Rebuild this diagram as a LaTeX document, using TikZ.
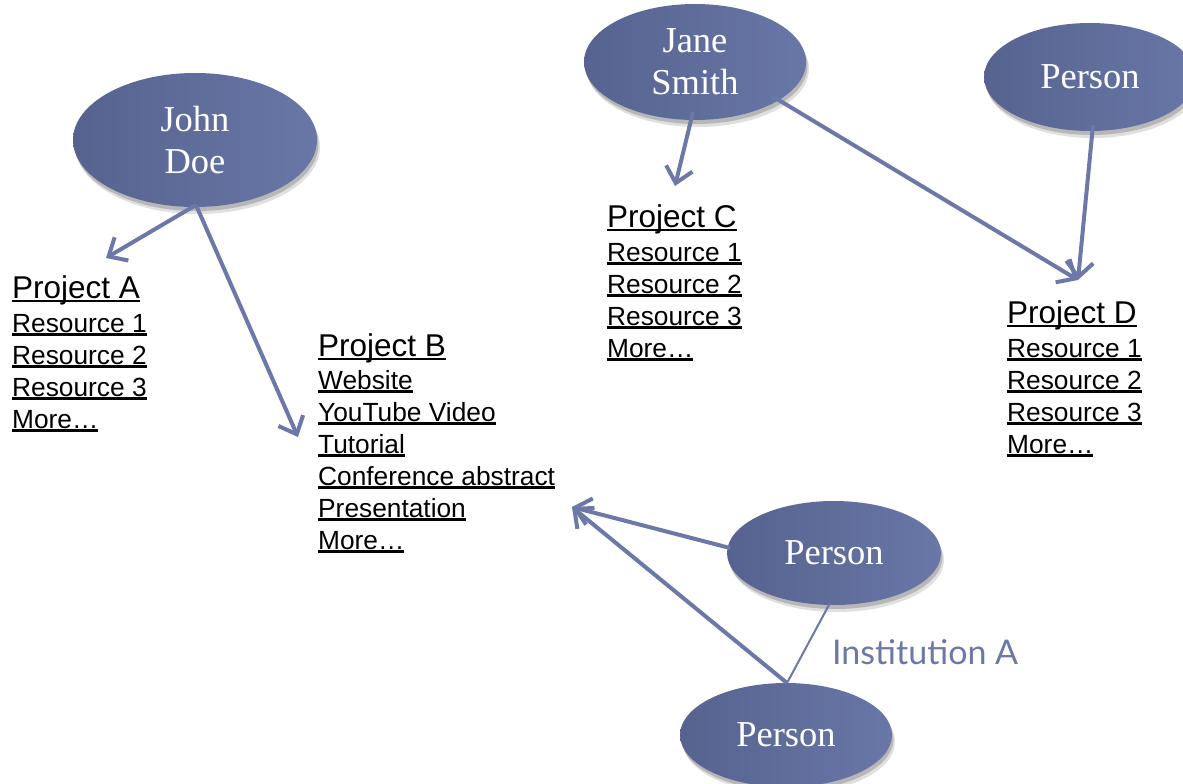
\documentclass[tikz,border=0pt]{standalone}
\usepackage{fontspec}
\setmainfont{Liberation Sans}
\newfontfamily\serifnode{Liberation Serif}
\newfontfamily\instfont{Lato}
\usetikzlibrary{arrows.meta,shapes.geometric,shadows}
\definecolor{lineblue}{HTML}{6B78A8}
\definecolor{ellL}{HTML}{56638F}
\definecolor{ellR}{HTML}{6977A7}
\newcommand\myul[1]{\setbox0\hbox{#1}\rlap{\rule[-0.14em]{\wd0}{0.09em}}\box0}
\begin{document}
\begin{tikzpicture}[x=1pt,y=-1pt,
  person/.style={ellipse, inner sep=0pt, left color=ellL, right color=ellR,
    drop shadow={shadow xshift=3pt, shadow yshift=-7pt, opacity=0.12, fill=black},
    drop shadow={shadow xshift=1.5pt, shadow yshift=-4pt, opacity=0.18, fill=black},
    text=white, font=\serifnode\fontsize{36.5}{42}\selectfont, align=center},
  head/.style={anchor=base west, inner sep=0pt, font=\fontsize{31.5}{31.5}\selectfont},
  item/.style={anchor=base west, inner sep=0pt, font=\fontsize{26.3}{26.3}\selectfont},
  link/.style={draw=lineblue, line width=4pt, -{Straight Barb[length=15pt,width=27pt]}},
  tie/.style={draw=lineblue, line width=2pt}]
\useasboundingbox (0,0) rectangle (1183,784);
\clip (0,0) rectangle (1183,784);
\fill[white] (0,0) rectangle (1183,784);

% ellipses
\node[person, minimum width=244pt, minimum height=134pt] (john) at (195,140) {John\\Doe};
\node[person, minimum width=222pt, minimum height=116pt] (jane) at (695,62) {Jane\\Smith};
\node[person, minimum width=212pt, minimum height=108pt] (p1) at (1090,77) {Person};
\node[person, minimum width=214pt, minimum height=104pt] (p2) at (834,553) {Person};
\node[person, minimum width=212pt, minimum height=104pt] (p3) at (786,735) {Person};

% Project A
\node[head] (pa) at (12,298) {\myul{Project A}};
\node[item] (pa1) at (12,332) {\myul{Resource 1}};
\node[item] (pa2) at (12,364) {\myul{Resource 2}};
\node[item] (pa3) at (12,396) {\myul{Resource 3}};
\node[item] (pa4) at (12,428) {\myul{More…}};

% Project B
\node[head] (pb) at (318,356) {\myul{Project B}};
\node[item] (pb1) at (318,389) {\myul{Website}};
\node[item] (pb2) at (318,421) {\myul{YouTube Video}};
\node[item] (pb3) at (318,453) {\myul{Tutorial}};
\node[item] (pb4) at (318,485) {\myul{Conference abstract}};
\node[item] (pb5) at (318,517) {\myul{Presentation}};
\node[item] (pb6) at (318,549) {\myul{More…}};

% Project C
\node[head] (pc) at (607,227) {\myul{Project C}};
\node[item] (pc1) at (607,261) {\myul{Resource 1}};
\node[item] (pc2) at (607,293) {\myul{Resource 2}};
\node[item] (pc3) at (607,325) {\myul{Resource 3}};
\node[item] (pc4) at (607,357) {\myul{More…}};

% Project D
\node[head] (pd) at (1007,323) {\myul{Project D}};
\node[item] (pd1) at (1007,357) {\myul{Resource 1}};
\node[item] (pd2) at (1007,389) {\myul{Resource 2}};
\node[item] (pd3) at (1007,421) {\myul{Resource 3}};
\node[item] (pd4) at (1007,453) {\myul{More…}};

% arrow tips
\coordinate (ta) at (106,258);
\coordinate (tb) at (298,437);
\coordinate (tc) at (675,186);
\coordinate (td) at (1078,280);
\coordinate (te) at (572,507);
% arrow starts on the ellipses
\coordinate (sj) at (196,205);
\coordinate (sj2) at (693,112);
\coordinate (sj3) at (772,96);
\coordinate (sp1) at (1093,125);
\coordinate (sp2) at (730,548);
\coordinate (sp2b) at (830,603);
\coordinate (sp3) at (787,683);

\draw[link] (sj) -- (ta);
\draw[link] (sj) -- (tb);
\draw[link] (sj2) -- (tc);
\draw[link] (sj3) -- (td);
\draw[link] (sp1) -- (td);
\draw[link] (sp2) -- (te);
\draw[link] (sp3) -- (te);
\draw[tie] (sp2b) -- (sp3);

\node[anchor=base west, inner sep=0pt, text=lineblue, font=\instfont\fontsize{34}{34}\selectfont] (inst) at (832,664) {Institution A};
\end{tikzpicture}
\end{document}
